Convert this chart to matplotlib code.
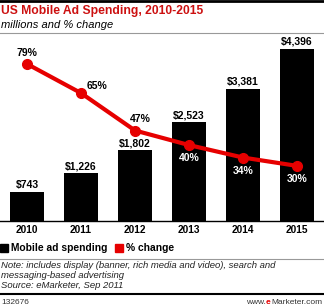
import matplotlib.pyplot as plt
from matplotlib.lines import Line2D
from matplotlib.patches import Rectangle

years = ["2010", "2011", "2012", "2013", "2014", "2015"]
spending = [743, 1226, 1802, 2523, 3381, 4396]
spending_labels = ["$743", "$1,226", "$1,802", "$2,523", "$3,381", "$4,396"]
pct_change = [79, 65, 47, 40, 34, 30]

RED = "#e60000"
W, H = 324, 307

plt.rcParams['font.family'] = ['Liberation Sans', 'DejaVu Sans']

fig = plt.figure(figsize=(W / 100, H / 100), dpi=100)

# plot area: baseline at y=221 px, top at y=45 px
ax = fig.add_axes([0, 1 - 221 / H, 1, (221 - 45) / H])
x = list(range(len(years)))
ax.bar(x, spending, width=0.63, color="black", zorder=2)
ax.set_xlim(-0.5, 5.5)
ax.set_ylim(0, 4498)
for s in ["top", "right", "left"]:
    ax.spines[s].set_visible(False)
ax.spines["bottom"].set_color("black")
ax.spines["bottom"].set_linewidth(1.0)
ax.set_yticks([])
ax.set_xticks(x)
ax.set_xticklabels(years, fontsize=7.3, fontweight="bold")
ax.tick_params(axis="x", length=0, pad=3)

for i, v in enumerate(spending):
    ax.annotate(spending_labels[i], (i, v), xytext=(0, 2), textcoords="offset pixels",
                ha="center", va="bottom", fontsize=7.5, fontweight="bold")

ax2 = ax.twinx()
ax2.set_ylim(3.5, 88.1)
ax2.axis("off")
ax2.plot(x, pct_change, color=RED, lw=3, marker="o", ms=7, zorder=3)

offsets = [(0, 11), (16, 7), (5, 12), (0, -13), (0, -13), (0, -13)]
colors = ["black", "black", "black", "white", "white", "white"]
for i, v in enumerate(pct_change):
    ax2.annotate(f"{v}%", (i, v), xytext=offsets[i], textcoords="offset pixels",
                 ha="center", va="center", fontsize=7.5, fontweight="bold", color=colors[i])

# header
fig.add_artist(Line2D([0, 1], [1 - 1 / H, 1 - 1 / H], color="black", lw=2))
fig.text(1 / W, 1 - 11 / H, "US Mobile Ad Spending, 2010-2015", color="#cc1010",
         fontsize=8.7, fontweight="bold", va="center", ha="left")
fig.text(1 / W, 1 - 25 / H, "millions and % change", fontsize=8, style="italic",
         va="center", ha="left")
fig.add_artist(Line2D([0, 1], [1 - 33 / H, 1 - 33 / H], color="#999999", lw=0.8))

# legend
ly = 1 - 248 / H
fig.add_artist(Rectangle((0, 1 - 252 / H), 8 / W, 8 / H, color="black"))
fig.text(11 / W, ly, "Mobile ad spending", fontsize=7.4, fontweight="bold", va="center", ha="left")
fig.add_artist(Rectangle((115 / W, 1 - 252 / H), 8 / W, 8 / H, color=RED))
fig.text(126 / W, ly, "% change", fontsize=7.4, fontweight="bold", va="center", ha="left")

# notes
fig.add_artist(Line2D([0, 1], [1 - 259 / H, 1 - 259 / H], color="#999999", lw=0.8))
notes = ["Note: includes display (banner, rich media and video), search and",
         "messaging-based advertising",
         "Source: eMarketer, Sep 2011"]
for k, line in enumerate(notes):
    fig.text(1 / W, 1 - (266 + k * 9.5) / H, line, fontsize=6.8, style="italic",
             va="center", ha="left", color="#222222")
fig.add_artist(Line2D([0, 1], [1 - 294 / H, 1 - 294 / H], color="black", lw=1.5))
fig.text(1 / W, 1 - 302 / H, "132676", fontsize=6, va="center", ha="left", color="#333333")
t1 = fig.text(1 - 2 / W, 1 - 302 / H, "Marketer.com", fontsize=6, va="center", ha="right",
              color="#333333")
fig.canvas.draw()
bb = t1.get_window_extent()
t2 = fig.text(bb.x0 / W, 1 - 302 / H, "e", fontsize=6, va="center", ha="right",
              color=RED, fontweight="bold")
fig.canvas.draw()
bb2 = t2.get_window_extent()
fig.text(bb2.x0 / W, 1 - 302 / H, "www.", fontsize=6, va="center", ha="right", color="#333333")

fig.savefig("out.png", dpi=100)
